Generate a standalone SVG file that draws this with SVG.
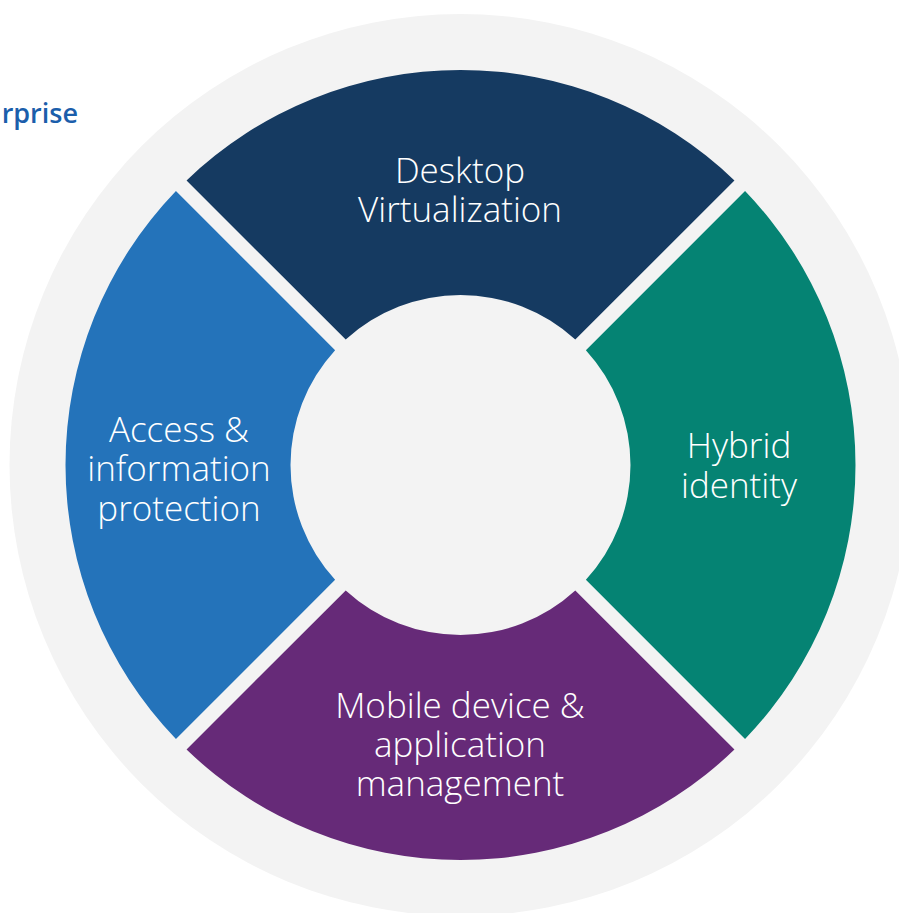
<svg xmlns="http://www.w3.org/2000/svg" width="899" height="913" viewBox="0 0 899 913">
<style>
.lbl{font-family:"Open Sans","Noto Sans","Liberation Sans",sans-serif;font-weight:300;font-size:35px;fill:#ffffff;text-anchor:middle}
.hdr{font-family:"Open Sans","Noto Sans","Liberation Sans",sans-serif;font-weight:600;font-size:27px;fill:#1B5EAB}
</style>
<rect x="0" y="0" width="899" height="913" fill="#ffffff"/>
<circle id="backdrop" cx="460.5" cy="465" r="451" fill="#F3F3F3"/>
<text class="hdr" x="78" y="123" text-anchor="end">rprise</text>
<g id="desktop-virtualization">
<path d="M186.55,180.44 A395,395 0 0 1 734.45,180.44 L575.29,339.61 A170,170 0 0 0 345.71,339.61 Z" fill="#153A61"/>
<text class="lbl" x="460" y="183">Desktop</text>
<text class="lbl" x="460" y="222">Virtualization</text>
</g>
<g id="hybrid-identity">
<path d="M745.06,191.05 A395,395 0 0 1 745.06,738.95 L585.89,579.79 A170,170 0 0 0 585.89,350.21 Z" fill="#058373"/>
<text class="lbl" x="739" y="458">Hybrid</text>
<text class="lbl" x="739" y="498">identity</text>
</g>
<g id="mobile-device">
<path d="M734.45,749.56 A395,395 0 0 1 186.55,749.56 L345.71,590.39 A170,170 0 0 0 575.29,590.39 Z" fill="#662A78"/>
<text class="lbl" x="460" y="718">Mobile device &amp;</text>
<text class="lbl" x="460" y="757">application</text>
<text class="lbl" x="460" y="796">management</text>
</g>
<g id="access-information">
<path d="M175.94,738.95 A395,395 0 0 1 175.94,191.05 L335.11,350.21 A170,170 0 0 0 335.11,579.79 Z" fill="#2473BA"/>
<text class="lbl" x="179" y="442">Access &amp;</text>
<text class="lbl" x="179" y="481">information</text>
<text class="lbl" x="179" y="521">protection</text>
</g>
<g id="connectors"/>
</svg>
